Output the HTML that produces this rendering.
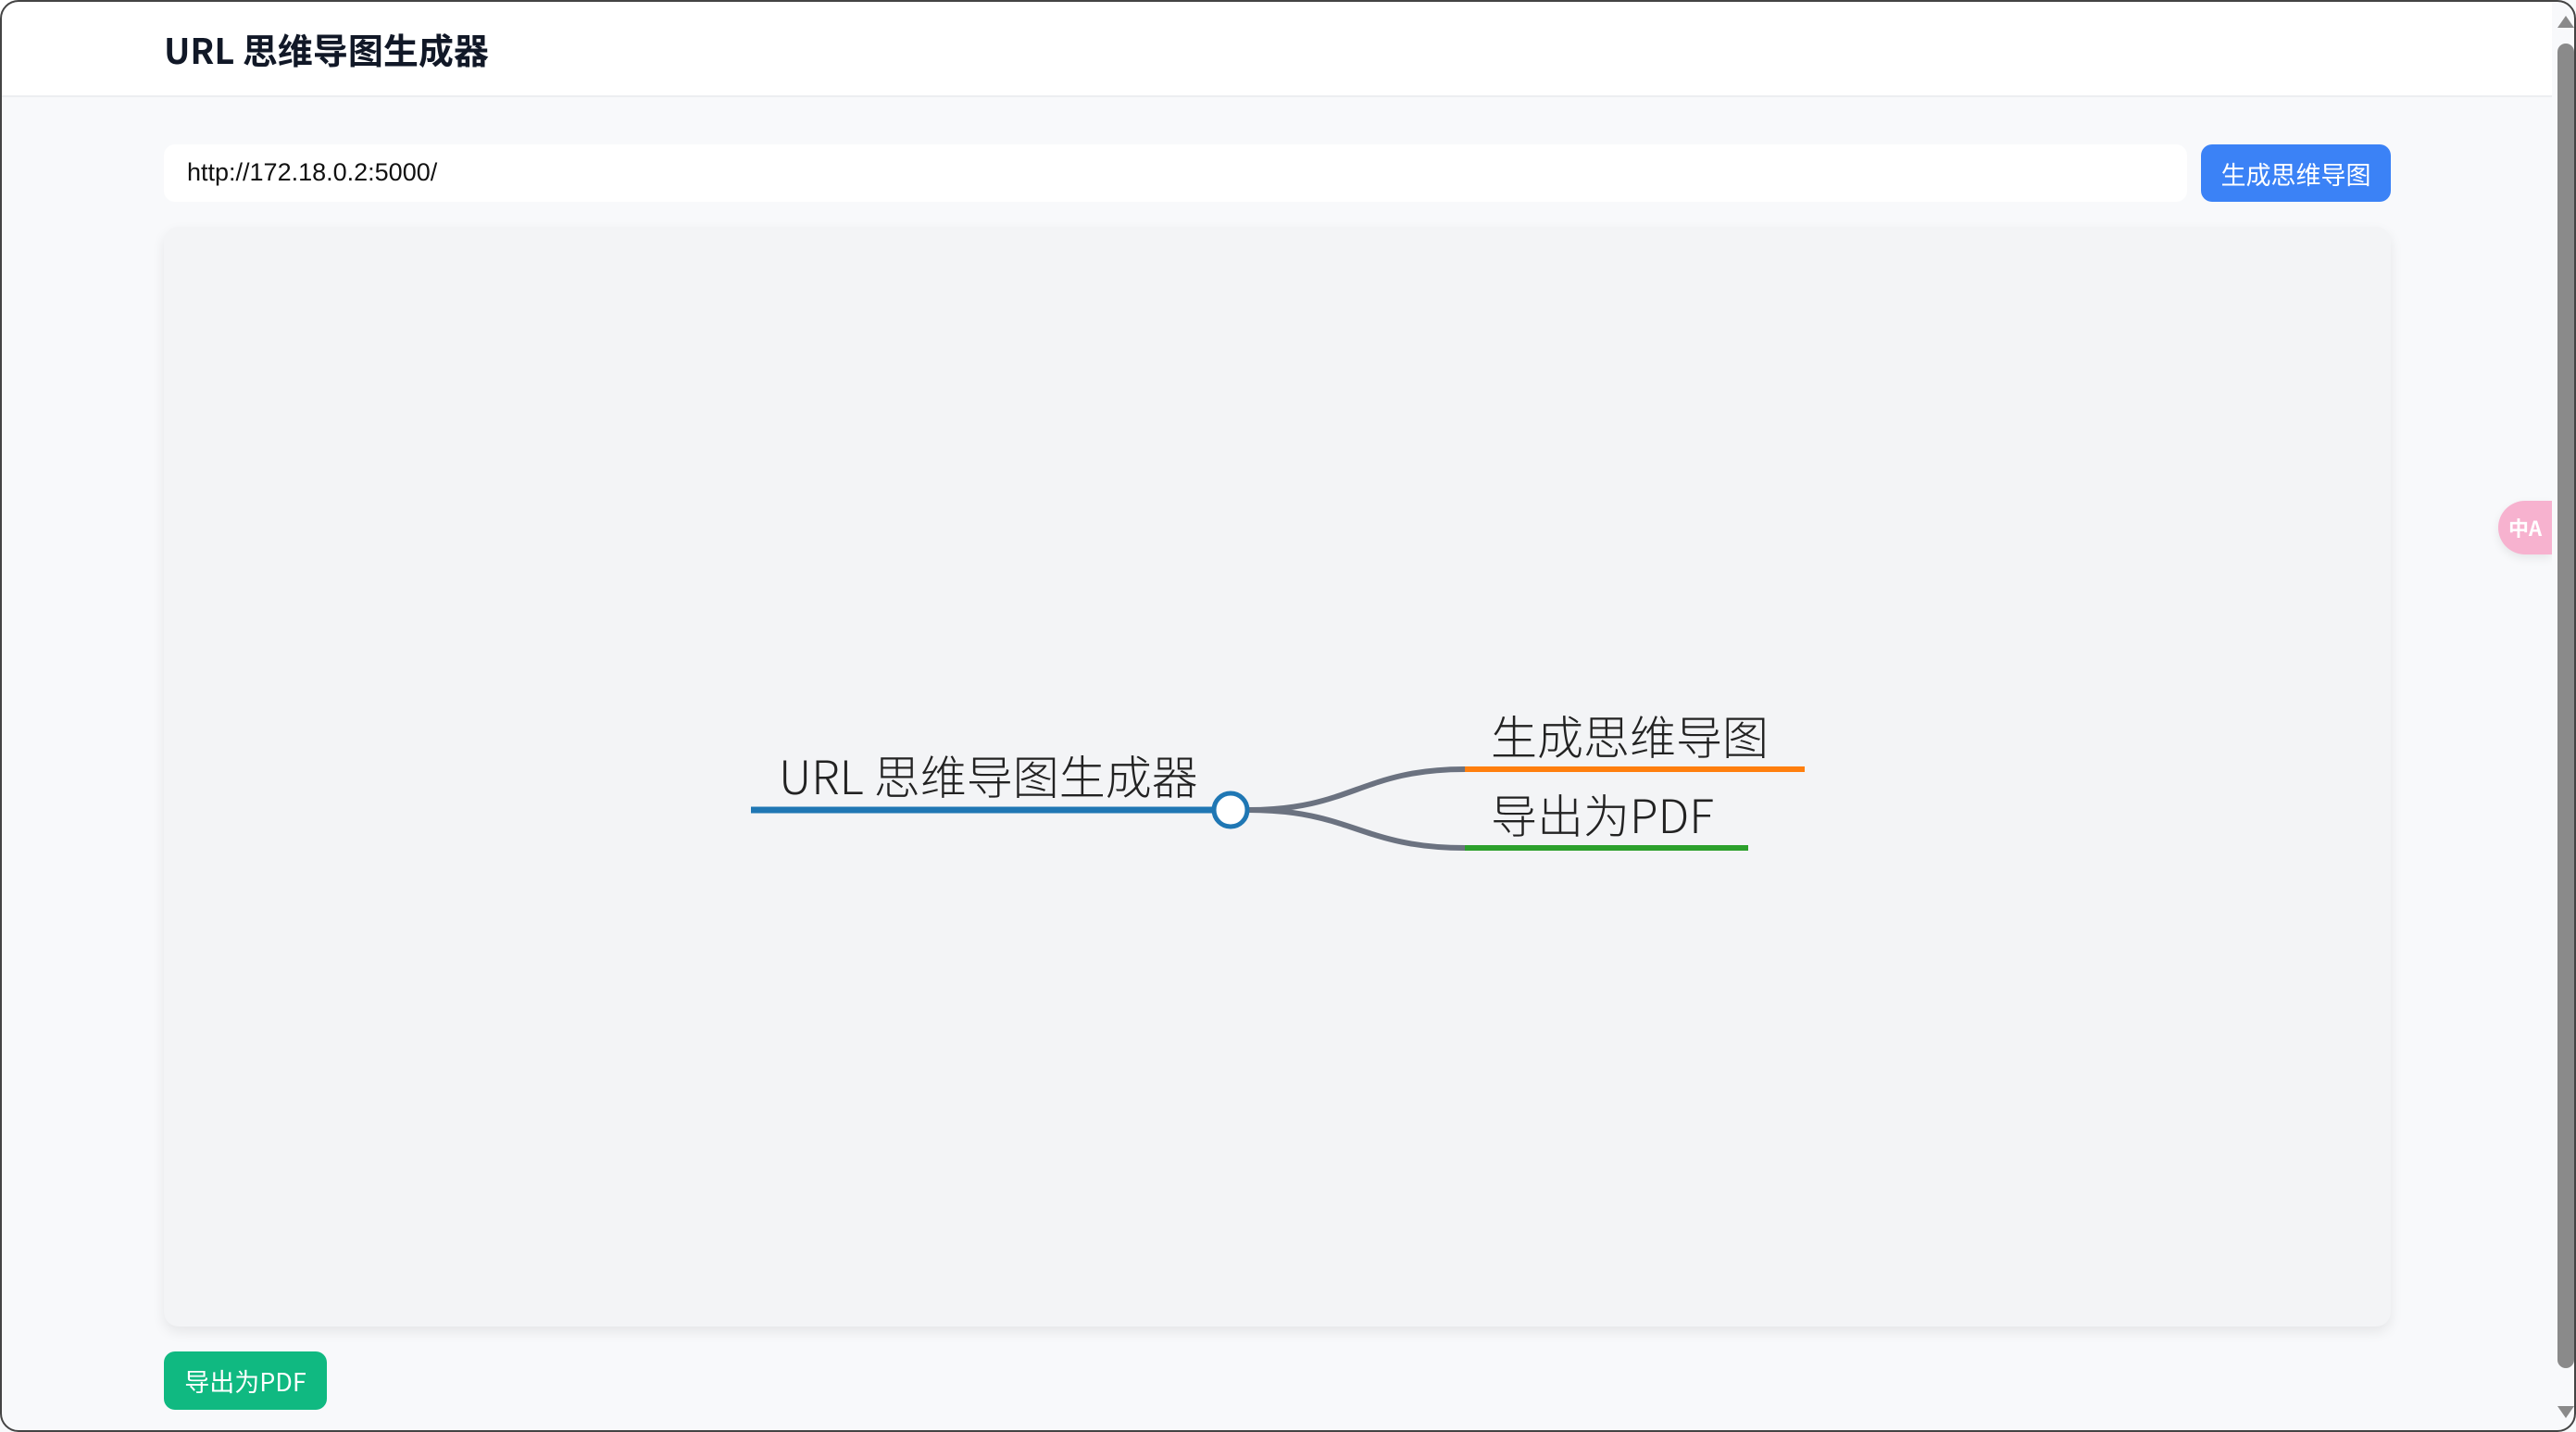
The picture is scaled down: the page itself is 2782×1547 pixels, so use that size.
<!DOCTYPE html>
<html><head><meta charset="utf-8"><style>
html,body{margin:0;padding:0;}
body{width:2782px;height:1547px;position:relative;overflow:hidden;background:#f8f9fb;font-family:"Liberation Sans","Noto Sans CJK SC",sans-serif;}
.hdr{position:absolute;left:0;top:0;width:2756px;height:103px;background:#fff;border-bottom:2px solid #eceef1;}
.title{position:absolute;left:177px;top:27px;font-size:38px;font-weight:bold;color:#111827;font-family:"Noto Sans CJK SC","Liberation Sans",sans-serif;line-height:52px;}
.inp{position:absolute;left:177px;top:156px;width:2185px;height:62px;background:#fff;border-radius:12px;}
.inp span{position:absolute;left:25px;top:15px;font-size:27px;color:#111;}
.btn{position:absolute;color:#fff;font-size:27px;display:flex;align-items:center;justify-content:center;border-radius:12px;font-family:"Noto Sans CJK SC",sans-serif;}
.canvas{position:absolute;left:177px;top:245px;width:2405px;height:1188px;background:#f3f4f6;border-radius:16px;box-shadow:0 6px 14px rgba(0,0,0,0.08);}
.sb{position:absolute;left:2756px;top:0;width:26px;height:1547px;background:#f8f9fb;}
.thumb{position:absolute;left:6px;top:47px;width:18px;height:1431px;background:#8a8a8a;border-radius:9px;}
.pill{position:absolute;left:2698px;top:541px;width:58px;height:58px;background:#f7b2cf;border-radius:29px 0 0 29px;box-shadow:0 4px 10px rgba(0,0,0,0.08);color:#fff;font-size:22px;font-weight:bold;display:flex;align-items:center;justify-content:center;font-family:"Noto Sans CJK SC",sans-serif;}
.frame{position:absolute;left:0;top:0;width:2778px;height:1543px;border:2px solid #444;border-radius:20px;pointer-events:none;}
</style></head><body>
<div class="hdr"><div class="title">URL 思维导图生成器</div></div>
<div class="inp"><span>http://172.18.0.2:5000/</span></div>
<div class="btn" style="left:2377px;top:156px;width:205px;height:62px;background:#3b82f6;">生成思维导图</div>
<div class="canvas"></div>
<svg style="position:absolute;left:0;top:0" width="2782" height="1547">
<g font-family="Noto Sans CJK SC, Liberation Sans, sans-serif" font-weight="300" font-size="50" fill="#222">
<text x="841" y="858">URL 思维导图生成器</text>
<text x="1610" y="815">生成思维导图</text>
<text x="1610" y="900">导出为PDF</text>
</g>
<path d="M1348 875 C1460 875 1470 831 1582 831" stroke="#6b7280" stroke-width="6" fill="none"/>
<path d="M1348 875 C1460 875 1470 916 1582 916" stroke="#6b7280" stroke-width="6" fill="none"/>
<line x1="811" y1="875" x2="1312" y2="875" stroke="#1f77b4" stroke-width="7"/>
<line x1="1582" y1="831" x2="1949" y2="831" stroke="#ff7f0e" stroke-width="6"/>
<line x1="1582" y1="916" x2="1888" y2="916" stroke="#2ca02c" stroke-width="6"/>
<circle cx="1329" cy="875" r="18" fill="#fff" stroke="#1f77b4" stroke-width="5"/>
</svg>
<div class="btn" style="left:177px;top:1460px;width:176px;height:63px;background:#10b981;">导出为PDF</div>
<div class="pill">中A</div>
<div class="sb"><div class="thumb"></div>
<div style="position:absolute;left:6px;top:17px;width:0;height:0;border-left:9px solid transparent;border-right:9px solid transparent;border-bottom:13px solid #8a8a8a;"></div>
<div style="position:absolute;left:6px;top:1519px;width:0;height:0;border-left:9px solid transparent;border-right:9px solid transparent;border-top:13px solid #8a8a8a;"></div>
</div>
<div class="frame"></div>
</body></html>
